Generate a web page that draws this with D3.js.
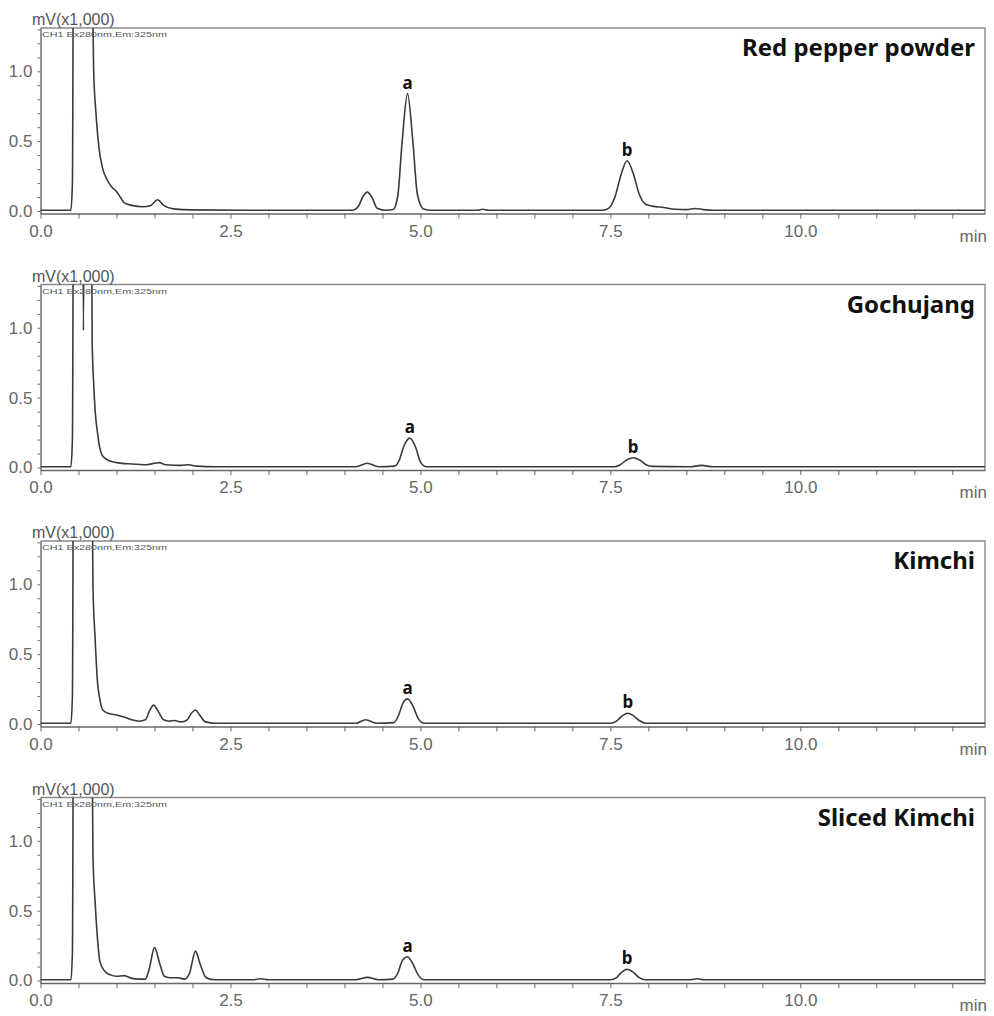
<!DOCTYPE html>
<html lang="en">
<head>
<meta charset="utf-8">
<title>Chromatograms</title>
<script src="https://d3js.org/d3.v7.min.js"></script>
<style>
  body { margin: 0; background: #fff; }
  text { font-family: "Liberation Sans", Arial, sans-serif; }
</style>
</head>
<body>
<div id="chart"></div>
<script>
// sample names (one panel each)
const samples = ["Red pepper powder", "Gochujang", "Kimchi", "Sliced Kimchi"];

// traces: [time (min), signal (mV x1,000)]
const redPepper = [[0,0.005],[0.40,0.005],[0.42,0.2],[0.44,3],[0.66,3],[0.70,1.0],[0.73,0.7],[0.77,0.45],[0.82,0.30],
  [0.88,0.22],[0.94,0.17],[1.0,0.14],[1.05,0.10],[1.1,0.06],[1.2,0.04],[1.35,0.03],[1.45,0.04],[1.54,0.08],[1.62,0.04],
  [1.75,0.015],[2.0,0.008],[3.0,0.005],[4.1,0.005],[4.18,0.03],[4.24,0.1],[4.30,0.135],[4.36,0.1],[4.43,0.02],[4.55,0.005],
  [4.64,0.01],[4.70,0.1],[4.76,0.5],[4.83,0.84],[4.90,0.5],[4.96,0.12],[5.04,0.015],[5.15,0.005],[5.75,0.005],[5.82,0.012],
  [5.9,0.005],[7.4,0.005],[7.48,0.02],[7.56,0.1],[7.64,0.26],[7.72,0.36],[7.80,0.27],[7.88,0.12],[7.96,0.05],[8.05,0.035],
  [8.2,0.025],[8.35,0.012],[8.5,0.01],[8.62,0.018],[8.72,0.01],[8.85,0.005],[12.43,0.005]];

const gochujang = [[0,0.005],[0.40,0.005],[0.42,0.2],[0.44,3],[0.55,3],[0.565,0.98],[0.585,3],[0.66,3],[0.68,0.9],
  [0.70,0.6],[0.72,0.4],[0.75,0.25],[0.78,0.14],[0.82,0.08],[0.9,0.05],[1.0,0.035],[1.2,0.025],[1.4,0.02],[1.5,0.03],
  [1.56,0.035],[1.65,0.02],[1.85,0.015],[1.95,0.02],[2.05,0.01],[2.3,0.005],[4.15,0.005],[4.3,0.03],[4.45,0.005],
  [4.66,0.01],[4.72,0.05],[4.78,0.15],[4.86,0.21],[4.94,0.14],[5.0,0.04],[5.08,0.005],[7.55,0.005],[7.63,0.02],
  [7.72,0.055],[7.8,0.07],[7.88,0.055],[7.97,0.02],[8.05,0.008],[8.55,0.005],[8.7,0.015],[8.85,0.005],[12.43,0.005]];

const kimchi = [[0,0.005],[0.40,0.005],[0.42,0.2],[0.44,3],[0.66,3],[0.69,1.0],[0.72,0.6],[0.75,0.3],[0.78,0.18],
  [0.82,0.1],[0.9,0.075],[1.0,0.065],[1.1,0.05],[1.2,0.03],[1.3,0.02],[1.38,0.03],[1.44,0.1],[1.49,0.135],[1.55,0.09],
  [1.62,0.03],[1.7,0.02],[1.76,0.025],[1.85,0.015],[1.93,0.03],[1.99,0.08],[2.04,0.1],[2.1,0.06],[2.17,0.015],[2.3,0.005],
  [4.15,0.005],[4.28,0.03],[4.42,0.005],[4.65,0.01],[4.71,0.06],[4.77,0.15],[4.83,0.18],[4.9,0.13],[4.97,0.04],[5.05,0.005],
  [7.5,0.005],[7.58,0.02],[7.66,0.06],[7.73,0.077],[7.8,0.06],[7.88,0.025],[7.96,0.005],[12.43,0.005]];

const slicedKimchi = [[0,0.005],[0.40,0.005],[0.42,0.2],[0.44,3],[0.66,3],[0.69,0.9],[0.72,0.55],[0.75,0.3],[0.78,0.14],
  [0.84,0.07],[0.92,0.04],[1.0,0.03],[1.1,0.035],[1.2,0.015],[1.3,0.01],[1.38,0.01],[1.43,0.08],[1.5,0.235],[1.57,0.12],
  [1.63,0.03],[1.7,0.02],[1.8,0.02],[1.9,0.01],[1.96,0.05],[2.04,0.21],[2.1,0.12],[2.18,0.02],[2.3,0.005],[2.8,0.005],
  [2.9,0.012],[3.0,0.005],[4.15,0.005],[4.3,0.022],[4.45,0.005],[4.64,0.01],[4.7,0.05],[4.76,0.14],[4.83,0.17],[4.9,0.12],
  [4.97,0.04],[5.05,0.005],[7.5,0.005],[7.58,0.02],[7.65,0.06],[7.72,0.08],[7.8,0.06],[7.88,0.02],[7.96,0.005],
  [8.55,0.005],[8.64,0.012],[8.73,0.005],[12.43,0.005]];

const traces = [redPepper, gochujang, kimchi, slicedKimchi];

// labelled peaks (apex of a and b in each sample)
const peakA = [[4.83,0.84],[4.86,0.21],[4.83,0.18],[4.83,0.17]];
const peakB = [[7.72,0.36],[7.80,0.07],[7.73,0.077],[7.72,0.08]];

const xLabels = [0, 2.5, 5, 7.5, 10];
const yLabels = [0, 0.5, 1.0];

const w = 994, h = 1016;
const left = 40.5, right = 985, plotH = 185.5, step = 256.5, top0 = 28;

const x = d3.scaleLinear().domain([0, 12.43]).range([left, right]);
const y = d3.scaleLinear().domain([-0.018, 1.31]).range([plotH, 0]);

const svg = d3.select("#chart").append("svg")
  .attr("width", w).attr("height", h);

svg.append("defs").append("clipPath").attr("id", "plotclip")
  .append("rect").attr("x", left).attr("y", 0).attr("width", right - left).attr("height", plotH);

const line = d3.line().x(d => x(d[0])).y(d => y(d[1])).curve(d3.curveMonotoneX);

samples.forEach((name, i) => {
  const g = svg.append("g").attr("transform", "translate(0," + (top0 + i * step) + ")");

  // frame top / right
  g.append("path")
    .attr("d", `M${left},0H${right}V${plotH}`)
    .attr("fill", "none").attr("stroke", "#8a8a8a").attr("stroke-width", 1.4);

  // x axis
  const xAxis = d3.axisBottom(x)
    .tickValues(d3.range(0, 12.01, 0.5))
    .tickFormat(d => xLabels.includes(d) ? d.toFixed(1) : "")
    .tickSizeInner(5).tickSizeOuter(0).tickPadding(6);
  const gx = g.append("g").attr("transform", "translate(0," + plotH + ")").call(xAxis);
  gx.select(".domain").attr("stroke", "#666").attr("stroke-width", 1.4);
  gx.selectAll(".tick line").attr("stroke", "#666");
  gx.selectAll(".tick text").attr("fill", "#666").style("font-size", "17px");

  g.append("text").attr("x", right + 2).attr("y", plotH + 28)
    .attr("text-anchor", "end").attr("fill", "#666").style("font-size", "17px").text("min");

  // y axis
  const yAxis = d3.axisLeft(y)
    .tickValues(d3.range(0, 1.301, 0.1).map(v => +v.toFixed(1)))
    .tickFormat(d => yLabels.includes(d) ? d.toFixed(1) : "")
    .tickSizeInner(3).tickSizeOuter(0).tickPadding(5);
  const gy = g.append("g").attr("transform", "translate(" + left + ",0)").call(yAxis);
  gy.select(".domain").attr("stroke", "#666").attr("stroke-width", 1.4);
  gy.selectAll(".tick line").attr("stroke", "#666");
  gy.selectAll(".tick text").attr("fill", "#666").style("font-size", "17px");

  // trace
  g.append("path").datum(traces[i])
    .attr("clip-path", "url(#plotclip)")
    .attr("d", line)
    .attr("fill", "none").attr("stroke", "#3a3a3a").attr("stroke-width", 1.6);

  // unit and channel text
  g.append("text").attr("x", 32).attr("y", -3)
    .attr("fill", "#555").style("font-size", "16px").text("mV(x1,000)");
  g.append("text").attr("x", 42).attr("y", 9)
    .attr("fill", "#555").style("font-size", "8px")
    .attr("textLength", 125).attr("lengthAdjust", "spacingAndGlyphs")
    .text("CH1 Ex280nm,Em:325nm");

  // sample title
  g.append("text").attr("x", 975).attr("y", 28)
    .attr("text-anchor", "end").attr("fill", "#111")
    .style("font-family", "'Noto Sans', 'Open Sans', sans-serif")
    .style("font-weight", "bold").style("font-size", "24px")
    .text(name);

  // peak labels
  [[peakA[i], "a"], [peakB[i], "b"]].forEach(([p, lab]) => {
    g.append("text").attr("x", x(p[0])).attr("y", y(p[1]) - 5)
      .attr("text-anchor", "middle").attr("fill", "#111")
      .style("font-family", "'Noto Sans', 'Open Sans', sans-serif")
      .style("font-weight", "bold").style("font-size", "17px")
      .text(lab);
  });
});
</script>
</body>
</html>
